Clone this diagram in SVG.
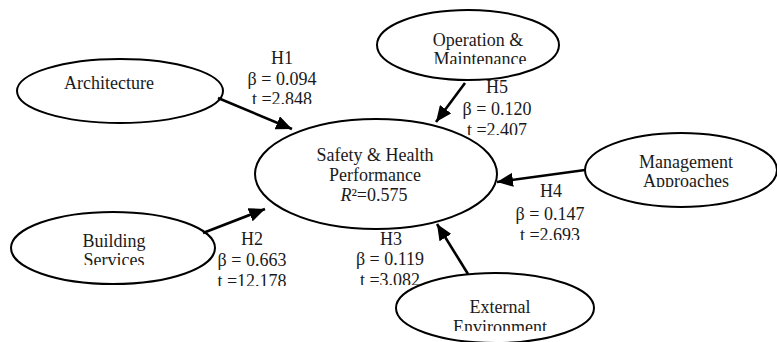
<svg xmlns="http://www.w3.org/2000/svg" width="777" height="342" viewBox="0 0 777 342">
<style>
  .node ellipse { fill: #ffffff; stroke: #000000; stroke-width: 2; }
  text { font-family: "Liberation Serif", "Times New Roman", serif; font-size: 18px; fill: #1a1a1a; text-anchor: middle; }
  .edge line { stroke: #000000; stroke-width: 2.6; marker-end: url(#arrow); }
</style>
<defs>
  <marker id="arrow" markerUnits="userSpaceOnUse" markerWidth="16" markerHeight="14" refX="16" refY="7" orient="auto">
    <path d="M0,0 L16,7 L0,14 z" fill="#000000"/>
  </marker>
  <clipPath id="cMaint"><rect x="370" y="0" width="200" height="64"/></clipPath>
  <clipPath id="cApp"><rect x="580" y="120" width="197" height="67"/></clipPath>
  <clipPath id="cServ"><rect x="0" y="200" width="230" height="65"/></clipPath>
  <clipPath id="cEnv"><rect x="390" y="280" width="220" height="51"/></clipPath>
  <clipPath id="cH1"><rect x="230" y="40" width="110" height="64"/></clipPath>
  <clipPath id="cH5"><rect x="450" y="70" width="100" height="65"/></clipPath>
  <clipPath id="cH4"><rect x="500" y="180" width="100" height="60"/></clipPath>
  <clipPath id="cH2"><rect x="200" y="225" width="100" height="61"/></clipPath>
  <clipPath id="cH3"><rect x="340" y="225" width="100" height="60"/></clipPath>
</defs>
<rect width="777" height="342" fill="#ffffff"/>

<g id="architecture" class="node">
  <ellipse cx="120" cy="91" rx="103" ry="32"/>
  <text x="109" y="89">Architecture</text>
</g>

<g id="operation-maintenance" class="node">
  <ellipse cx="468" cy="45" rx="91" ry="35"/>
  <text x="478" y="46">Operation &amp;</text>
  <text x="480" y="65" clip-path="url(#cMaint)">Maintenance</text>
</g>

<g id="safety-health" class="node">
  <ellipse cx="376" cy="174" rx="121" ry="55"/>
  <text x="375" y="161">Safety &amp; Health</text>
  <text x="375" y="181">Performance</text>
  <text x="374" y="201"><tspan font-style="italic">R</tspan>²=0.575</text>
</g>

<g id="management-approaches" class="node">
  <ellipse cx="681" cy="170" rx="96" ry="37"/>
  <text x="686" y="168">Management</text>
  <text x="686" y="187" clip-path="url(#cApp)">Approaches</text>
</g>

<g id="building-services" class="node">
  <ellipse cx="113" cy="248" rx="102" ry="36"/>
  <text x="114" y="247">Building</text>
  <text x="114" y="266" clip-path="url(#cServ)">Services</text>
</g>

<g id="external-environment" class="node">
  <ellipse cx="495" cy="308" rx="99" ry="35"/>
  <text x="500" y="313">External</text>
  <text x="500" y="333" clip-path="url(#cEnv)">Environment</text>
</g>

<g id="connectors" class="edge">
  <line x1="218" y1="98" x2="292" y2="129"/>
  <line x1="465" y1="83" x2="436" y2="122"/>
  <line x1="585" y1="170" x2="497" y2="182"/>
  <line x1="203" y1="233" x2="265" y2="209"/>
  <line x1="468" y1="274" x2="437" y2="224"/>
</g>

<g id="labels">
  <g clip-path="url(#cH1)">
    <text x="282" y="64">H1</text>
    <text x="282" y="85">β = 0.094</text>
    <text x="282" y="105">t =2.848</text>
  </g>
  <g clip-path="url(#cH5)">
    <text x="497" y="93">H5</text>
    <text x="497" y="115">β = 0.120</text>
    <text x="497" y="136">t =2.407</text>
  </g>
  <g clip-path="url(#cH4)">
    <text x="551" y="197">H4</text>
    <text x="550" y="220">β = 0.147</text>
    <text x="550" y="241">t =2.693</text>
  </g>
  <g clip-path="url(#cH2)">
    <text x="252" y="245">H2</text>
    <text x="252" y="266">β = 0.663</text>
    <text x="252" y="287">t =12.178</text>
  </g>
  <g clip-path="url(#cH3)">
    <text x="391" y="245">H3</text>
    <text x="390" y="265">β = 0.119</text>
    <text x="390" y="286">t =3.082</text>
  </g>
</g>
</svg>
